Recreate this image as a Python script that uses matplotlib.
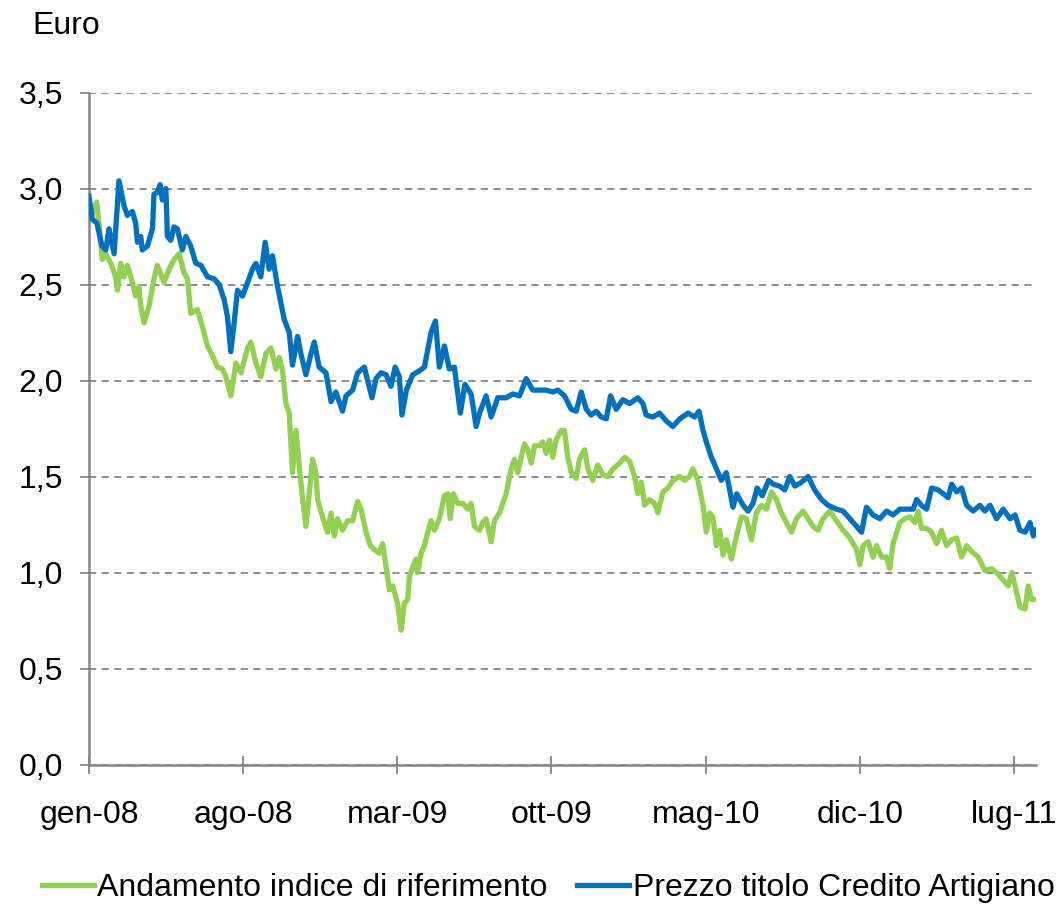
import matplotlib
matplotlib.use('Agg')
import matplotlib.pyplot as plt

# ---- data (x = months since gen-08) ----
tick_months = [0, 7, 14, 21, 28, 35, 42]
tick_labels = ['gen-08', 'ago-08', 'mar-09', 'ott-09', 'mag-10', 'dic-10', 'lug-11']
y_ticks = [0.0, 0.5, 1.0, 1.5, 2.0, 2.5, 3.0, 3.5]

series_names = ['Andamento indice di riferimento', 'Prezzo titolo Credito Artigiano']

index_months = [0.00, 0.15, 0.35, 0.45, 0.60, 0.76, 0.99, 1.21, 1.29, 1.44, 1.59, 1.74, 1.90, 2.12,
                2.27, 2.35, 2.50, 2.73, 2.95, 3.10, 3.41, 3.64, 3.86, 4.09, 4.32, 4.47, 4.62, 4.92,
                5.15, 5.38, 5.60, 5.83, 6.06, 6.21, 6.44, 6.67, 6.90, 7.20, 7.35, 7.58, 7.80, 8.03,
                8.26, 8.49, 8.64, 8.79, 8.94, 9.09, 9.24, 9.40, 9.55, 9.70, 9.85, 10.00, 10.15, 10.30,
                10.38, 10.60, 10.83, 10.99, 11.14, 11.29, 11.51, 11.74, 11.97, 12.20, 12.35, 12.58,
                12.77, 12.95, 13.18, 13.33, 13.49, 13.64, 13.79, 14.01, 14.17, 14.32, 14.47, 14.55,
                14.70, 14.85, 14.92, 15.08, 15.23, 15.38, 15.53, 15.68, 15.91, 16.14, 16.29, 16.40,
                16.55, 16.74, 16.97, 17.20, 17.35, 17.50, 17.73, 17.88, 18.03, 18.26, 18.41, 18.64,
                18.79, 18.94, 19.17, 19.32, 19.47, 19.62, 19.77, 19.92, 20.08, 20.23, 20.45, 20.60,
                20.76, 20.91, 21.06, 21.21, 21.44, 21.59, 21.74, 21.90, 22.12, 22.27, 22.50, 22.65,
                22.88, 23.10, 23.33, 23.56, 23.79, 24.09, 24.32, 24.55, 24.77, 24.92, 25.08, 25.23,
                25.45, 25.68, 25.83, 26.06, 26.29, 26.51, 26.82, 27.05, 27.27, 27.42, 27.65, 27.88,
                28.03, 28.18, 28.33, 28.49, 28.64, 28.79, 28.94, 29.17, 29.40, 29.62, 29.85, 30.08,
                30.30, 30.53, 30.76, 30.99, 31.21, 31.44, 31.67, 31.90, 32.12, 32.42, 32.65, 32.88,
                33.10, 33.33, 33.64, 33.94, 34.24, 34.55, 34.85, 35.00, 35.15, 35.38, 35.60, 35.76,
                35.99, 36.21, 36.36, 36.51, 36.67, 36.82, 37.05, 37.27, 37.50, 37.65, 37.80, 38.03,
                38.26, 38.49, 38.71, 38.94, 39.17, 39.40, 39.62, 39.85, 40.08, 40.38, 40.68, 40.99,
                41.29, 41.51, 41.74, 41.90, 42.05, 42.27, 42.50, 42.65, 42.80, 43.00]
index_values = [2.93, 2.87, 2.93, 2.82, 2.63, 2.66, 2.61, 2.54, 2.47, 2.61, 2.54, 2.60, 2.54, 2.44,
                2.49, 2.39, 2.30, 2.39, 2.53, 2.60, 2.51, 2.58, 2.63, 2.66, 2.56, 2.53, 2.35, 2.37,
                2.28, 2.18, 2.13, 2.07, 2.06, 2.02, 1.92, 2.09, 2.04, 2.17, 2.20, 2.09, 2.02, 2.14,
                2.17, 2.06, 2.12, 2.05, 1.88, 1.83, 1.52, 1.74, 1.55, 1.38, 1.24, 1.41, 1.59, 1.52,
                1.38, 1.29, 1.21, 1.31, 1.19, 1.28, 1.22, 1.27, 1.27, 1.37, 1.33, 1.21,
                1.14, 1.12, 1.10, 1.15, 1.03, 0.91, 0.93, 0.84, 0.70, 0.84, 0.86, 0.98,
                1.03, 1.07, 1.00, 1.10, 1.14, 1.21, 1.27, 1.22, 1.28, 1.40, 1.41, 1.28,
                1.41, 1.36, 1.36, 1.33, 1.36, 1.24, 1.22, 1.26, 1.28, 1.16, 1.27, 1.31,
                1.36, 1.41, 1.54, 1.59, 1.52, 1.60, 1.67, 1.64, 1.57, 1.66, 1.66, 1.68,
                1.62, 1.69, 1.60, 1.69, 1.74, 1.74, 1.60, 1.52, 1.49, 1.59, 1.64, 1.54,
                1.48, 1.56, 1.51, 1.50, 1.54, 1.57, 1.60, 1.58, 1.50, 1.41, 1.47, 1.35,
                1.38, 1.36, 1.31, 1.42, 1.44, 1.48, 1.50, 1.48, 1.50, 1.54, 1.48, 1.35,
                1.21, 1.31, 1.29, 1.14, 1.22, 1.09, 1.17, 1.07, 1.19, 1.29, 1.28, 1.17,
                1.31, 1.35, 1.33, 1.42, 1.38, 1.31, 1.26, 1.21, 1.28, 1.32, 1.28, 1.24,
                1.22, 1.28, 1.32, 1.27, 1.22, 1.18, 1.12, 1.04, 1.14, 1.16, 1.08, 1.14,
                1.08, 1.08, 1.02, 1.15, 1.21, 1.26, 1.28, 1.29, 1.26, 1.32, 1.23, 1.23,
                1.21, 1.15, 1.22, 1.14, 1.17, 1.18, 1.08, 1.14, 1.11, 1.08, 1.01, 1.02,
                0.99, 0.96, 0.93, 1.00, 0.93, 0.82, 0.81, 0.93, 0.86, 0.86]

price_months = [0.00, 0.15, 0.36, 0.59, 0.76, 0.91, 1.14, 1.36, 1.59, 1.74, 1.97, 2.12, 2.20, 2.35,
                2.42, 2.65, 2.88, 2.95, 3.10, 3.23, 3.33, 3.49, 3.56, 3.71, 3.86, 4.01, 4.24, 4.40,
                4.62, 4.85, 5.08, 5.38, 5.68, 5.91, 6.14, 6.29, 6.44, 6.59, 6.74, 6.97, 7.20, 7.42,
                7.58, 7.80, 8.00, 8.18, 8.33, 8.56, 8.86, 9.09, 9.24, 9.47, 9.62, 9.85, 10.08, 10.23,
                10.45, 10.76, 10.99, 11.21, 11.51, 11.67, 11.97, 12.20, 12.50, 12.65, 12.85, 13.03,
                13.26, 13.49, 13.71, 13.90, 14.09, 14.21, 14.41, 14.70, 15.00, 15.23, 15.38, 15.53,
                15.73, 15.91, 16.14, 16.36, 16.59, 16.86, 17.07, 17.35, 17.58, 17.73, 18.03, 18.26,
                18.56, 18.94, 19.24, 19.55, 19.85, 20.15, 20.45, 20.76, 21.06, 21.29, 21.59, 21.90,
                22.12, 22.35, 22.58, 22.80, 23.03, 23.26, 23.49, 23.68, 23.94, 24.24, 24.55, 24.92,
                25.15, 25.30, 25.60, 25.91, 26.21, 26.51, 26.82, 27.20, 27.50, 27.70, 27.88, 28.03,
                28.26, 28.49, 28.71, 28.94, 29.17, 29.24, 29.41, 29.70, 29.92, 30.15, 30.34, 30.57,
                30.86, 31.06, 31.36, 31.59, 31.82, 32.05, 32.35, 32.65, 32.95, 33.26, 33.56, 33.94,
                34.24, 34.55, 34.85, 35.08, 35.30, 35.60, 35.91, 36.21, 36.51, 36.82, 37.12, 37.42,
                37.58, 37.80, 38.03, 38.26, 38.56, 38.79, 39.01, 39.17, 39.40, 39.62, 39.85, 40.15,
                40.45, 40.68, 40.91, 41.21, 41.51, 41.82, 42.05, 42.27, 42.50, 42.73, 42.88, 43.00]
price_values = [2.96, 2.84, 2.82, 2.70, 2.68, 2.79, 2.66, 3.04, 2.91, 2.86, 2.88, 2.82, 2.72, 2.75,
                2.68, 2.70, 2.79, 2.97, 2.98, 3.02, 2.94, 3.00, 2.75, 2.73, 2.80, 2.79, 2.68, 2.75,
                2.70, 2.61, 2.60, 2.54, 2.53, 2.50, 2.42, 2.33, 2.15, 2.30, 2.47, 2.44, 2.51, 2.58,
                2.61, 2.54, 2.72, 2.58, 2.65, 2.49, 2.32, 2.25, 2.08, 2.23, 2.14, 2.03, 2.14, 2.20,
                2.07, 2.04, 1.89, 1.94, 1.84, 1.92, 1.95, 2.04, 2.07, 2.00, 1.91, 2.01,
                2.04, 2.03, 1.97, 2.07, 2.02, 1.82, 1.95, 2.03, 2.05, 2.07, 2.16, 2.25,
                2.31, 2.07, 2.18, 2.06, 2.07, 1.83, 1.98, 1.93, 1.76, 1.83, 1.92, 1.81,
                1.91, 1.91, 1.93, 1.92, 2.01, 1.95, 1.95, 1.95, 1.94, 1.95, 1.92, 1.85,
                1.84, 1.94, 1.85, 1.82, 1.84, 1.81, 1.80, 1.92, 1.85, 1.90, 1.88, 1.91,
                1.88, 1.82, 1.81, 1.83, 1.79, 1.76, 1.80, 1.83, 1.81, 1.84, 1.74, 1.68,
                1.60, 1.54, 1.48, 1.52, 1.38, 1.34, 1.41, 1.35, 1.32, 1.36, 1.44, 1.40,
                1.48, 1.46, 1.45, 1.43, 1.50, 1.45, 1.47, 1.50, 1.43, 1.38, 1.35, 1.33,
                1.32, 1.28, 1.24, 1.21, 1.34, 1.30, 1.28, 1.32, 1.30, 1.33, 1.33, 1.33,
                1.38, 1.35, 1.33, 1.44, 1.43, 1.41, 1.39, 1.46, 1.42, 1.44, 1.35, 1.32,
                1.35, 1.32, 1.35, 1.28, 1.33, 1.28, 1.30, 1.22, 1.21, 1.26, 1.19, 1.22]

GREEN = '#92D050'
BLUE = '#0070C0'
GRAY = '#868686'
FS = 23

plt.rcParams['font.family'] = ['Liberation Sans', 'DejaVu Sans']

fig = plt.figure(figsize=(10.61, 9.09), dpi=100)
ax = fig.add_axes([89/1061, 1-764.5/909, (1036-89)/1061, (764.5-92.5)/909])

ax.plot(index_months, index_values, color=GREEN, lw=3.8, label=series_names[0],
        solid_joinstyle='round', zorder=3)
ax.plot(price_months, price_values, color=BLUE, lw=3.8, label=series_names[1],
        solid_joinstyle='round', zorder=4)

ax.set_xlim(0, 43)
ax.set_ylim(0, 3.5)
ax.set_xticks(tick_months)
ax.set_xticklabels(tick_labels, fontsize=FS)
ax.set_yticks(y_ticks)
ax.set_yticklabels([f'{v:.1f}'.replace('.', ',') for v in y_ticks], fontsize=FS)

ax.yaxis.grid(True, linestyle=(0, (4, 3)), color=GRAY, lw=1.3)
ax.set_axisbelow(True)
for s in ['top', 'right']:
    ax.spines[s].set_visible(False)
for s in ['left', 'bottom']:
    ax.spines[s].set_color(GRAY)
    ax.spines[s].set_linewidth(1.8)

ax.tick_params(axis='x', direction='inout', length=13, width=1.3, color=GRAY, pad=19)
ax.tick_params(axis='y', direction='out', length=6.5, width=1.3, color=GRAY, pad=12)

fig.text(32/1061, 1-25.5/909, 'Euro', fontsize=FS, ha='left', va='center')

fig.legend(loc='center', bbox_to_anchor=(548/1061, 1-888/909), ncol=2, frameon=False,
           fontsize=FS, handlelength=1.65, handletextpad=0.1, columnspacing=0.9)

fig.savefig('out.png', dpi=100)
